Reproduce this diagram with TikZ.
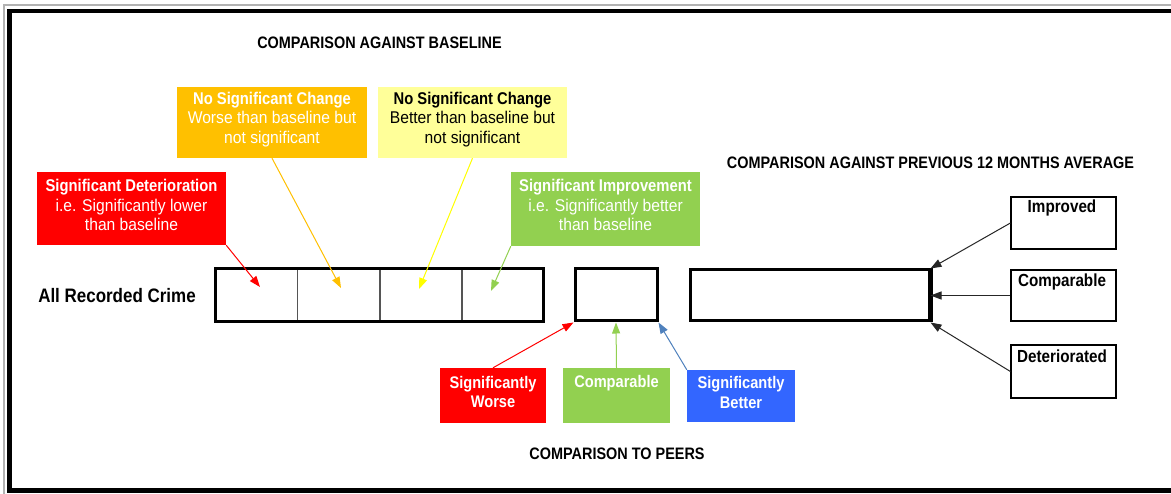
\documentclass[tikz,border=0pt]{standalone}
\usepackage{fontspec}
\setmainfont[UprightFeatures={FakeStretch=0.92}, BoldFeatures={FakeStretch=0.87}]{Liberation Sans}
\usetikzlibrary{arrows.meta}
\definecolor{cRed}{HTML}{FF0000}
\definecolor{cOrange}{HTML}{FFC000}
\definecolor{cYellowBox}{HTML}{FFFF99}
\definecolor{cYellow}{HTML}{FFFF00}
\definecolor{cGreen}{HTML}{92D050}
\definecolor{cBlue}{HTML}{3366FF}
\definecolor{cBlueArrow}{HTML}{4F81BD}
\definecolor{cDivider}{HTML}{555555}
\begin{document}
\begin{tikzpicture}[x=1pt,y=-1pt,
  font=\fontsize{17}{19.5}\selectfont,
  fillbox/.style={rectangle, inner sep=0pt, draw=none},
  boxtext/.style={align=center, inner sep=0pt},
  cell/.style={rectangle, inner sep=0pt, minimum width=82pt, minimum height=52pt},
  plainbox/.style={rectangle, draw=black, line width=1.2pt, inner sep=0pt, minimum width=105pt},
  heading/.style={inner sep=0pt, font=\fontsize{16.6}{19.5}\selectfont\bfseries},
  rlabel/.style={inner sep=0pt, font=\fontsize{17.5}{19.5}\selectfont\bfseries},
  plabel/.style={align=center, inner sep=0pt, text=white, font=\fontsize{16.8}{19.5}\selectfont\bfseries},
  arr/.style={line width=1pt, -{Triangle[length=11pt,width=8pt]}}
]
\useasboundingbox (0,0) rectangle (1171,494);
\fill[white] (0,0) rectangle (1171,494);
% frame
\draw[gray!60, line width=2pt] (4,494) -- (4,5) -- (1171,5);
\draw[black, line width=4.5pt] (9.5,11) rectangle (1190,490.5);

% headings
\node[heading] (hbase) at (379.5,43) {COMPARISON AGAINST BASELINE};
\node[heading] (hprev) at (930.5,163) {COMPARISON AGAINST PREVIOUS 12 MONTHS AVERAGE};
\node[heading] (hpeer) at (617,454) {COMPARISON TO PEERS};
\node[inner sep=0pt, font=\fontsize{19.5}{22}\selectfont\bfseries] (crime) at (117,296) {All Recorded Crime};

% baseline boxes
\node[fillbox, fill=cOrange, minimum width=190pt, minimum height=71pt] (orange) at (272,122.5) {};
\node[boxtext, text=white] (orangetxt) at (272,119.5) {\textbf{No Significant Change}\\Worse than baseline but\\not significant};
\node[fillbox, fill=cYellowBox, minimum width=189pt, minimum height=71pt] (yellow) at (472.5,122.5) {};
\node[boxtext, text=black] (yellowtxt) at (472.5,119.5) {\textbf{No Significant Change}\\Better than baseline but\\not significant};
\node[fillbox, fill=cRed, minimum width=189pt, minimum height=73pt] (red) at (131.5,208.5) {};
\node[boxtext, text=white] (redtxt) at (131.5,205) {\textbf{Significant Deterioration}\\i.e. Significantly lower\\than baseline};
\node[fillbox, fill=cGreen, minimum width=189pt, minimum height=74pt] (green) at (605.5,209) {};
\node[boxtext, text=white] (greentxt) at (605.5,205) {\textbf{Significant Improvement}\\i.e. Significantly better\\than baseline};

% baseline bar
\node[cell] (c1) at (256.5,295) {};
\node[cell] (c2) at (339,295) {};
\node[cell] (c3) at (421,295) {};
\node[cell] (c4) at (502.5,295) {};
\draw[cDivider, line width=1.5pt] (c1.north east) -- (c1.south east);
\draw[cDivider, line width=1.5pt] (c2.north east) -- (c2.south east);
\draw[cDivider, line width=1.5pt] (c3.north east) -- (c3.south east);
\draw[black, line width=3pt] (c1.north west) rectangle (c4.south east);

% peer box and 12 month box
\node[rectangle, draw=black, line width=3pt, inner sep=0pt, minimum width=82pt, minimum height=52pt] (peer) at (616,295) {};
\node[rectangle, draw=black, line width=3pt, inner sep=0pt, minimum width=239pt, minimum height=51pt] (big) at (809.5,295.5) {};
\draw[black, line width=4pt] (big.north east) -- (big.south east);

% right boxes
\node[plainbox, minimum height=52pt] (impr) at (1063.5,223) {};
\node[rlabel] (imprtxt) at (1062,208) {Improved};
\node[plainbox, minimum height=51pt] (compr) at (1063.5,295.5) {};
\node[rlabel] (comprtxt) at (1062,282) {Comparable};
\node[plainbox, minimum height=53pt] (deter) at (1063.5,371.5) {};
\node[rlabel] (detertxt) at (1062,356) {Deteriorated};

% peer boxes
\node[fillbox, fill=cRed, minimum width=106pt, minimum height=55pt] (worse) at (493,395.5) {};
\node[plabel] (worsetxt) at (493,392) {Significantly\\Worse};
\node[fillbox, fill=cGreen, minimum width=107pt, minimum height=55pt] (pcomp) at (616.5,395.5) {};
\node[plabel] (pcomptxt) at (616.5,383) {Comparable};
\node[fillbox, fill=cBlue, minimum width=108pt, minimum height=52pt] (better) at (741,396) {};
\node[plabel] (bettertxt) at (741,392.5) {Significantly\\Better};

% arrow targets in cells
\coordinate (t1) at (260,287);
\coordinate (t2) at (341,288);
\coordinate (t3) at (419,289);
\coordinate (t4) at (491,291);

% baseline arrows
\draw[arr, cRed] (red.south east) -- (t1);
\draw[arr, cOrange] (orange.south) -- (t2);
\draw[arr, cYellow] (yellow.south) -- (t3);
\draw[arr, cGreen] (green.south west) -- (t4);

% peer arrows
\draw[arr, cRed] (worse.north) -- (peer.south west);
\draw[arr, cGreen] (pcomp.north) -- (peer.south);
\draw[arr, cBlueArrow] (better.north west) -- (peer.south east);

% 12 month arrows
\draw[arr, black!85] (impr.west) -- (big.north east);
\draw[arr, black!85] (compr.west) -- (big.east);
\draw[arr, black!85] (deter.west) -- (big.south east);
\end{tikzpicture}
\end{document}
